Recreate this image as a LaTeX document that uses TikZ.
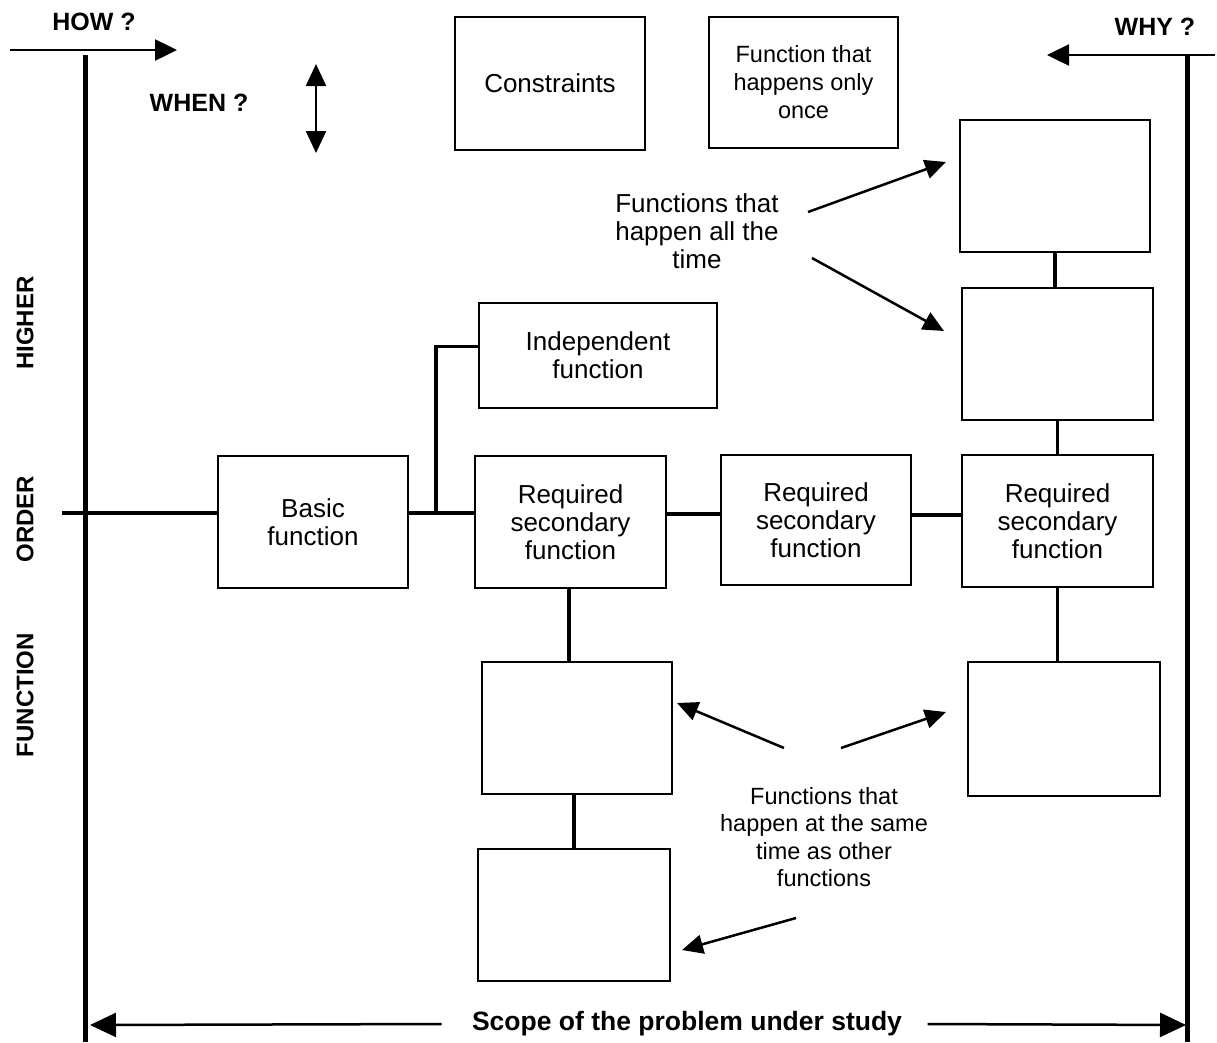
\documentclass[tikz,border=0pt]{standalone}
\usepackage{fontspec}
\setmainfont{Liberation Sans}
\usetikzlibrary{arrows.meta}
\begin{document}
\begin{tikzpicture}[x=1pt,y=-1pt,
  fbox/.style={draw,line width=2.2pt,inner sep=0pt,align=center,
    font=\fontsize{26}{28}\selectfont},
  label/.style={align=center,font=\fontsize{26}{28}\selectfont},
  smalllabel/.style={align=center,font=\fontsize{23.5}{27.5}\selectfont},
  head/.style={font=\fontsize{25}{27}\selectfont\bfseries},
  vhead/.style={font=\fontsize{24}{26}\selectfont\bfseries,rotate=90},
  link/.style={line width=3.5pt},
  axis/.style={line width=5pt},
  pointer/.style={line width=2.5pt,-{Triangle[length=21pt,width=19pt]}},
  dir/.style={line width=2.5pt,-{Triangle[length=22pt,width=21pt]}}
]
\useasboundingbox (0,0) rectangle (1217,1042);

% top boxes
\node[fbox,minimum width=190pt,minimum height=133pt] (cons) at (550,83.5) {Constraints};
\node[fbox,minimum width=189pt,minimum height=131pt,font=\fontsize{23.5}{28}\selectfont] (once) at (803.5,82.5) {Function that\\happens only\\once};

% right column
\node[fbox,minimum width=190pt,minimum height=132pt] (rt1) at (1055,186) {};
\node[fbox,minimum width=191pt,minimum height=132pt] (rt2) at (1057.5,354) {};

% main chain
\node[fbox,minimum width=238pt,minimum height=105pt] (indep) at (598,355.5) {Independent\\function};
\node[fbox,minimum width=190pt,minimum height=132pt] (basic) at (313,522) {Basic\\function};
\node[fbox,minimum width=191pt,minimum height=132pt] (rsf1) at (570.5,522) {Required\\secondary\\function};
\node[fbox,minimum width=190pt,minimum height=130pt] (rsf2) at (816,520) {Required\\secondary\\function};
\node[fbox,minimum width=191pt,minimum height=132pt] (rsf3) at (1057.5,521) {Required\\secondary\\function};

% lower boxes
\node[fbox,minimum width=190pt,minimum height=132pt] (b1) at (577,728) {};
\node[fbox,minimum width=192pt,minimum height=132pt] (b2) at (574,915) {};
\node[fbox,minimum width=192pt,minimum height=134pt] (b3) at (1064,729) {};

% connectors
\coordinate (hl) at (62,513);
\coordinate (br) at (436,513);
\draw[link] (hl) -- (hl -| basic.west);
\draw[link] (basic.east |- hl) -- (rsf1.west |- hl);
\draw[link] (br) |- ([yshift=9pt]indep.west);
\draw[link] ([yshift=8pt]rsf1.east) -- ([yshift=8pt]rsf1.east -| rsf2.west);
\draw[link] ([yshift=5pt]rsf2.east) -- ([yshift=5pt]rsf2.east -| rsf3.west);
\draw[link] ([xshift=-1.5pt]rsf1.south) -- ([xshift=-1.5pt]rsf1.south |- b1.north);
\draw[link] (b2.north) -- (b2.north |- b1.south);
\draw[link] (rsf3.south) -- (rsf3.south |- b3.north);
\draw[link] (rt1.south) -- (rt1.south |- rt2.north);
\draw[link] (rt2.south) -- (rt2.south |- rsf3.north);

% scope boundaries
\coordinate (lt) at (85,55);
\coordinate (lb) at (85,1042);
\coordinate (rt) at (1187,55);
\coordinate (rb) at (1187,1042);
\draw[axis] (lt) -- (lb);
\draw[axis] (rt) -- (rb);

% direction arrows
\coordinate (howA) at (10,50);
\coordinate (howB) at (177,50);
\draw[dir] (howA) -- (howB);
\node[head] (how) at (94,22) {HOW ?};

\coordinate (whyA) at (1215,55);
\coordinate (whyB) at (1047,55);
\draw[dir] (whyA) -- (whyB);
\node[head] (why) at (1155,27) {WHY ?};

\coordinate (whenA) at (316,64);
\coordinate (whenB) at (316,153);
\draw[line width=2.5pt,{Triangle[length=22pt,width=20pt]}-{Triangle[length=22pt,width=20pt]}] (whenA) -- (whenB);
\node[head] (when) at (199,103) {WHEN ?};

% vertical axis title
\node[vhead] (higher) at (25,323) {HIGHER};
\node[vhead] (order) at (25,519) {ORDER};
\node[vhead] (funct) at (25,695) {FUNCTION};

% annotations
\node[label] (alltime) at (697,231) {Functions that\\happen all the\\time};
\coordinate (at1) at (808,212);
\coordinate (at1h) at (946,162);
\coordinate (at2) at (812,258);
\coordinate (at2h) at (944,331);
\draw[pointer] (at1) -- (at1h);
\draw[pointer] (at2) -- (at2h);

\node[smalllabel] (sametime) at (824,837) {Functions that\\happen at the same\\time as other\\functions};
\coordinate (st1) at (784,748);
\coordinate (st1h) at (677,703);
\coordinate (st2) at (841,748);
\coordinate (st2h) at (946,712);
\coordinate (st3) at (796,918);
\coordinate (st3h) at (682,950);
\draw[pointer] (st1) -- (st1h);
\draw[pointer] (st2) -- (st2h);
\draw[pointer] (st3) -- (st3h);

% scope arrow
\node[font=\fontsize{26.5}{28}\selectfont\bfseries] (scope) at (687,1024) {Scope of the problem under study};
\coordinate (scL) at (90,1025);
\coordinate (scR) at (1186,1025);
\draw[line width=2.5pt,-{Triangle[length=26pt,width=24pt]}] ([xshift=-27pt]scope.west) -- (scL);
\draw[line width=2.5pt,-{Triangle[length=26pt,width=24pt]}] ([xshift=22pt]scope.east) -- (scR);
\end{tikzpicture}
\end{document}
